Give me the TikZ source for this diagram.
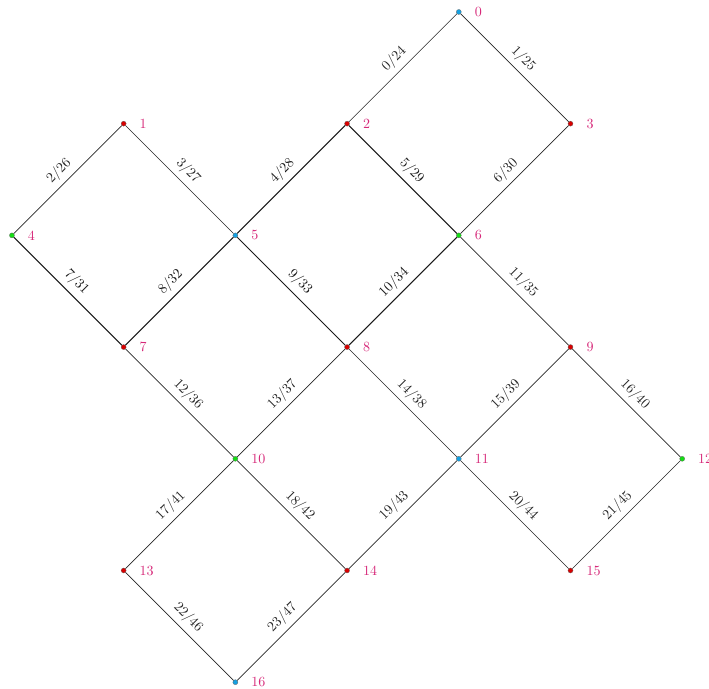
\documentclass[tikz,border=0pt]{standalone}
\usetikzlibrary{positioning}

\definecolor{lbl}{RGB}{214,39,120}
\definecolor{vblue}{RGB}{20,160,225}
\definecolor{vred}{RGB}{215,0,0}
\definecolor{vgreen}{RGB}{20,220,20}
\tikzset{
  vtx/.style={circle,inner sep=0pt,minimum size=3.6pt,draw=black!60,line width=0.2pt,fill=#1},
  num/.style={text=lbl,label distance=6pt},
  edge/.style={line width=0.45pt,black!85},
  dbl/.style={line width=0.75pt,black!90},
  elbl/.style={sloped,above=1.5pt,inner sep=2pt}
}

\begin{document}
\begin{tikzpicture}[x=2.8cm,y=-2.8cm]
\useasboundingbox (-0.107,-0.107) rectangle (6.24,6.055);
% vertices
\node[vtx=vblue,label={[num]right:0}] (v0) at (4,0) {};
\node[vtx=vred,label={[num]right:1}] (v1) at (1,1) {};
\node[vtx=vred,label={[num]right:2}] (v2) at (3,1) {};
\node[vtx=vred,label={[num]right:3}] (v3) at (5,1) {};
\node[vtx=vgreen,label={[num]right:4}] (v4) at (0,2) {};
\node[vtx=vblue,label={[num]right:5}] (v5) at (2,2) {};
\node[vtx=vgreen,label={[num]right:6}] (v6) at (4,2) {};
\node[vtx=vred,label={[num]right:7}] (v7) at (1,3) {};
\node[vtx=vred,label={[num]right:8}] (v8) at (3,3) {};
\node[vtx=vred,label={[num]right:9}] (v9) at (5,3) {};
\node[vtx=vgreen,label={[num]right:10}] (v10) at (2,4) {};
\node[vtx=vblue,label={[num]right:11}] (v11) at (4,4) {};
\node[vtx=vgreen,label={[num]right:12}] (v12) at (6,4) {};
\node[vtx=vred,label={[num]right:13}] (v13) at (1,5) {};
\node[vtx=vred,label={[num]right:14}] (v14) at (3,5) {};
\node[vtx=vred,label={[num]right:15}] (v15) at (5,5) {};
\node[vtx=vblue,label={[num]right:16}] (v16) at (2,6) {};
% edges
\draw[edge] (v0) -- node[elbl] {0/24} (v2);
\draw[edge] (v0) -- node[elbl] {1/25} (v3);
\draw[edge] (v1) -- node[elbl] {2/26} (v4);
\draw[edge] (v1) -- node[elbl] {3/27} (v5);
\draw[dbl] (v2) -- node[elbl] {4/28} (v5);
\draw[dbl] (v2) -- node[elbl] {5/29} (v6);
\draw[edge] (v3) -- node[elbl] {6/30} (v6);
\draw[dbl] (v4) -- node[elbl] {7/31} (v7);
\draw[dbl] (v5) -- node[elbl] {8/32} (v7);
\draw[dbl] (v5) -- node[elbl] {9/33} (v8);
\draw[dbl] (v6) -- node[elbl] {10/34} (v8);
\draw[edge] (v6) -- node[elbl] {11/35} (v9);
\draw[edge] (v7) -- node[elbl] {12/36} (v10);
\draw[edge] (v8) -- node[elbl] {13/37} (v10);
\draw[edge] (v8) -- node[elbl] {14/38} (v11);
\draw[edge] (v9) -- node[elbl] {15/39} (v11);
\draw[edge] (v9) -- node[elbl] {16/40} (v12);
\draw[edge] (v10) -- node[elbl] {17/41} (v13);
\draw[edge] (v10) -- node[elbl] {18/42} (v14);
\draw[edge] (v11) -- node[elbl] {19/43} (v14);
\draw[edge] (v11) -- node[elbl] {20/44} (v15);
\draw[edge] (v12) -- node[elbl] {21/45} (v15);
\draw[edge] (v13) -- node[elbl] {22/46} (v16);
\draw[edge] (v14) -- node[elbl] {23/47} (v16);
\end{tikzpicture}
\end{document}
